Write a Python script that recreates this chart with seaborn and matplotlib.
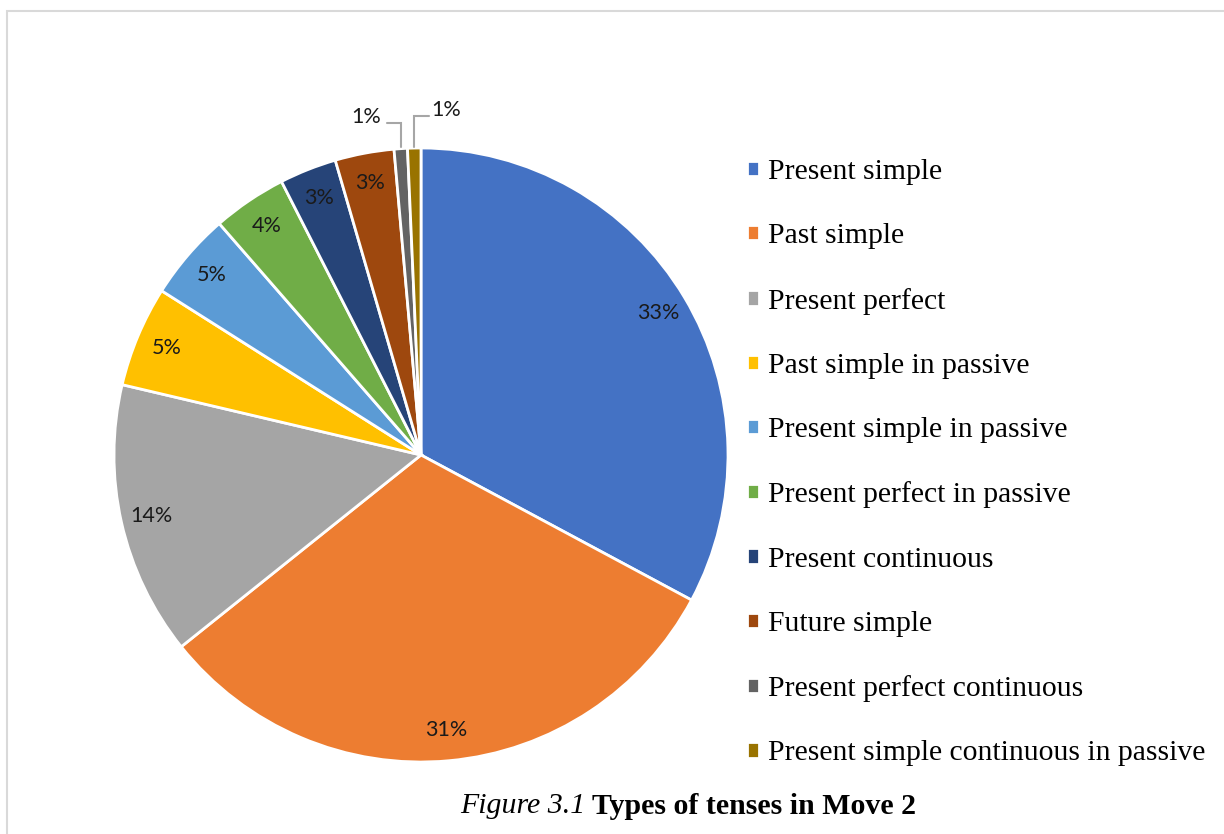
import matplotlib
matplotlib.use("Agg")
import matplotlib.pyplot as plt
from matplotlib.patches import Rectangle
import numpy as np
import seaborn as sns

sns.set_theme(style="white")
plt.rcParams['font.family'] = ['Liberation Serif', 'DejaVu Serif']
plt.rcParams['text.color'] = 'black'

# data (percent shares)
tenses = ["Present simple", "Past simple", "Present perfect", "Past simple in passive",
          "Present simple in passive", "Present perfect in passive", "Present continuous",
          "Future simple", "Present perfect continuous", "Present simple continuous in passive"]
shares = [32.8, 31.4, 14.4, 5.3, 4.6, 3.9, 3.0, 3.1, 0.7, 0.7]
colors = sns.color_palette(["#4472C4", "#ED7D31", "#A5A5A5", "#FFC000", "#5B9BD5",
                            "#70AD47", "#264478", "#9E480E", "#636363", "#997300"])

W, H = 1224, 834
fig = plt.figure(figsize=(W / 100, H / 100), dpi=100)
fig.patch.set_facecolor("white")

# light frame of the chart area
fig.add_artist(Rectangle((7 / W, -0.05), 1.1, 1 - 11 / H + 0.05, transform=fig.transFigure,
                         fill=False, edgecolor="#d9d9d9", linewidth=1.5))

cx, cy, r = 421, 455, 307
ax = fig.add_axes([(cx - r) / W, (H - cy - r) / H, 2 * r / W, 2 * r / H])

lbl_font = dict(fontsize=15.5, family="Lato", color="#1a1a1a")
wedges, texts, autotexts = ax.pie(
    shares, colors=colors, startangle=90, counterclock=False,
    autopct=lambda p: "%.0f%%" % p if p > 1 else "", pctdistance=0.9,
    wedgeprops=dict(edgecolor="white", linewidth=2),
    textprops=lbl_font)
ax.set_xlim(-1, 1)
ax.set_ylim(-1, 1)
ax.set_aspect("equal")
ax.axis("off")

# tiny slices get outside labels with elbow leader lines
# (text x, text y, line y, line end x)
callouts = [(-0.179, 1.10, 1.081, -0.111), (0.081, 1.124, 1.104, 0.026)]
for w, (tx, ty, ly, lx) in zip(wedges[-2:], callouts):
    ang = np.deg2rad((w.theta1 + w.theta2) / 2)
    px, py = np.cos(ang) * 1.0, np.sin(ang) * 1.0
    ax.plot([px, px, lx], [py + 0.005, ly, ly], color="#a6a6a6", lw=1.5,
            solid_joinstyle="miter", clip_on=False)
    val = (w.theta2 - w.theta1) / 360 * 100
    ax.text(tx, ty, "%.0f%%" % np.ceil(val), ha="center", va="center", **lbl_font)

leg = fig.legend(wedges, tenses, loc="upper left", bbox_to_anchor=(747 / W, 1 - 159 / H),
                 frameon=False, fontsize=21.3, handlelength=0.42, handleheight=0.42,
                 handletextpad=0.28, labelspacing=1.294, borderaxespad=0, borderpad=0)

fig.text(585 / W, 1 - 806 / H, "Figure 3.1", style="italic", fontsize=21.5,
         ha="right", va="center")
fig.text(592 / W, 1 - 806 / H, "Types of tenses in Move 2", weight="bold", fontsize=21.5,
         ha="left", va="center")

fig.savefig("out.png", dpi=100, facecolor="white")
